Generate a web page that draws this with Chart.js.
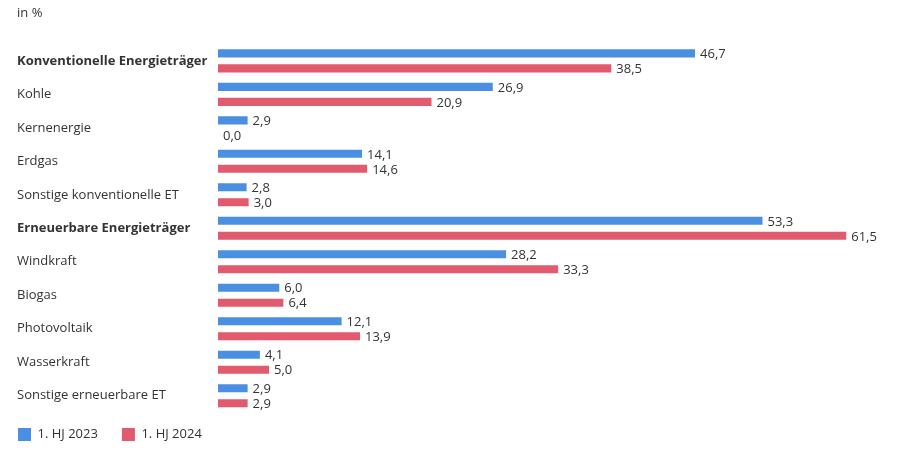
<!DOCTYPE html>
<html>
<head>
<meta charset="utf-8">
<script src="https://cdn.jsdelivr.net/npm/chart.js@4/dist/chart.umd.min.js"></script>
<style>
  html, body { margin: 0; padding: 0; background: #fff; }
  #wrap { width: 900px; height: 450px; }
</style>
</head>
<body>
<div id="wrap"><canvas id="c" width="900" height="450"></canvas></div>
<script>
const categories = [
  "Konventionelle Energieträger",
  "Kohle",
  "Kernenergie",
  "Erdgas",
  "Sonstige konventionelle ET",
  "Erneuerbare Energieträger",
  "Windkraft",
  "Biogas",
  "Photovoltaik",
  "Wasserkraft",
  "Sonstige erneuerbare ET"
];
const boldCategories = ["Konventionelle Energieträger", "Erneuerbare Energieträger"];
const seriesNames = ["1. HJ 2023", "1. HJ 2024"];
const values2023 = [46.7, 26.9, 2.9, 14.1, 2.8, 53.3, 28.2, 6.0, 12.1, 4.1, 2.9];
const values2024 = [38.5, 20.9, 0.0, 14.6, 3.0, 61.5, 33.3, 6.4, 13.9, 5.0, 2.9];
const unitLabel = "in %";

const FONT = "'Open Sans', 'Noto Sans', sans-serif";
const TEXT = "#333333";
const BLUE = "#4a8fe2";
const RED = "#e25a6e";

const LEGEND_PAD = 24;

const valueLabels = {
  id: "valueLabels",
  afterDatasetsDraw(chart) {
    const ctx = chart.ctx;
    ctx.save();
    ctx.font = "13px " + FONT;
    ctx.fillStyle = TEXT;
    ctx.textAlign = "left";
    ctx.textBaseline = "middle";
    chart.data.datasets.forEach((ds, i) => {
      const meta = chart.getDatasetMeta(i);
      meta.data.forEach((bar, j) => {
        const v = ds.data[j];
        ctx.fillText(v.toFixed(1).replace(".", ","), bar.x + 5, bar.y + 1);
      });
    });
    ctx.restore();
  }
};

const legendPlace = {
  id: "legendPlace",
  afterLayout(chart) {
    const lg = chart.legend;
    if (!lg) return;
    const dx = (18 - LEGEND_PAD) - lg.left;
    const dy = (428 - LEGEND_PAD) - lg.top;
    lg.left += dx; lg.right += dx;
    lg.top += dy; lg.bottom += dy;
  }
};

new Chart(document.getElementById("c"), {
  type: "bar",
  data: {
    labels: categories,
    datasets: [
      { label: seriesNames[0], data: values2023, backgroundColor: BLUE,
        categoryPercentage: 0.8955, barPercentage: 0.54 },
      { label: seriesNames[1], data: values2024, backgroundColor: RED,
        categoryPercentage: 0.8955, barPercentage: 0.54 }
    ]
  },
  options: {
    indexAxis: "y",
    responsive: false,
    animation: false,
    devicePixelRatio: 1,
    layout: { padding: { left: 17, right: 18, top: 0, bottom: -9.5 } },
    scales: {
      x: {
        display: false,
        min: 0,
        max: 65
      },
      y: {
        grid: { display: false },
        border: { display: false },
        afterFit(s) { s.width = 201; },
        ticks: {
          crossAlign: "far",
          color: TEXT,
          font: (c) => ({
            family: FONT,
            size: 13,
            weight: boldCategories.includes(categories[c.index]) ? "bold" : "normal"
          })
        }
      }
    },
    plugins: {
      title: {
        display: true,
        text: unitLabel,
        align: "start",
        color: TEXT,
        font: { family: FONT, size: 13, weight: "normal" },
        padding: { top: 5, bottom: 23.5 }
      },
      legend: {
        display: true,
        position: "bottom",
        align: "start",
        labels: {
          boxWidth: 13,
          boxHeight: 13,
          padding: LEGEND_PAD,
          color: TEXT,
          font: { family: FONT, size: 13 }
        }
      },
      tooltip: { enabled: false }
    }
  },
  plugins: [valueLabels, legendPlace]
});
</script>
</body>
</html>
